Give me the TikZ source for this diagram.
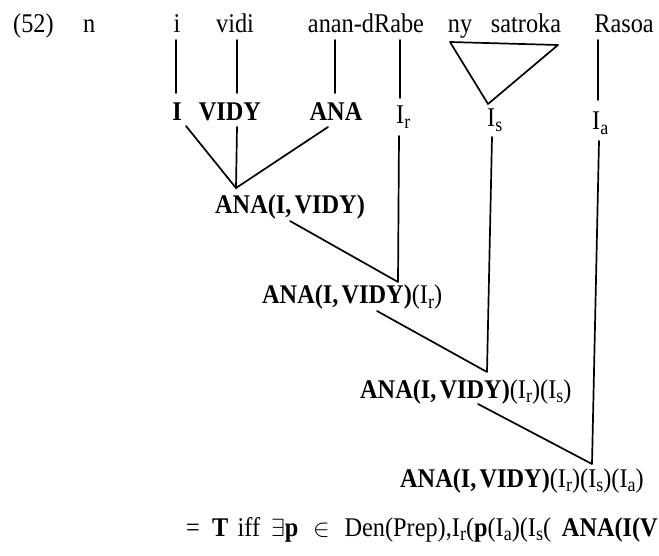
\documentclass[tikz,border=0pt]{standalone}
\usepackage{fontspec}
\setmainfont{Liberation Serif}[FakeStretch=0.9]
\newcommand\sbs[1]{\raisebox{-0.35ex}{\fontsize{20}{20}\selectfont #1}}
\newcommand\gap[1]{\hspace{#1em}}
\begin{document}
\begin{tikzpicture}[x=1pt,y=-1pt,
  every node/.style={inner sep=0pt, anchor=base, font=\fontsize{27}{30}\selectfont},
  lbl/.style={anchor=base west},
  edge/.style={line width=1.7pt, line cap=round, line join=round}]
\useasboundingbox (0,0) rectangle (659,556);
\clip (0,0) rectangle (659,556);
% row 1: words
\node[lbl] (ex) at (13,33) {(52)};
\node[lbl] (wn) at (83,33) {n};
\node (wi) at (177,33) {i};
\node (wvidi) at (235,33) {vidi};
\node (wanan) at (366,33) {anan-dRabe};
\node (wny) at (460,33) {ny};
\node (wsat) at (526,33) {satroka};
\node (wras) at (624,33) {Rasoa};
% row 2: translations
\node (lI) at (177,121) {\textbf{I}};
\node (lV) at (230,121) {\textbf{VIDY}};
\node (lA) at (336,121) {\textbf{ANA}};
\node[lbl] (lr) at (396,124) {I\sbs{r}};
\node[lbl] (ls) at (487,127) {I\sbs{s}};
\node[lbl] (la) at (592,130) {I\sbs{a}};
% composed labels
\node[lbl] (c1) at (215,214) {\textbf{ANA(I,\hspace{.12em}VIDY)}};
\node[lbl] (c2) at (262,304) {\textbf{ANA(I,\hspace{.12em}VIDY)}(I\sbs{r})};
\node[lbl] (c3) at (360,398) {\textbf{ANA(I,\hspace{.12em}VIDY)}(I\sbs{r})(I\sbs{s})};
\node[lbl] (c4) at (400,487) {\textbf{ANA(I,\hspace{.12em}VIDY)}(I\sbs{r})(I\sbs{s})(I\sbs{a})};
\node[lbl] (fm) at (186,536) {=\gap{.45}\textbf{T}\gap{.35}iff\gap{.4}$\exists$\textbf{p}\gap{.55}$\in$\gap{.55}Den(Prep),I\sbs{r}(\textbf{p}(I\sbs{a})(I\sbs{s}(\gap{.4}\textbf{ANA(I(V}};
% coordinates for line ends
\coordinate (i1) at (176,40);  \coordinate (i2) at (176,93);
\coordinate (v1) at (237,40);  \coordinate (v2) at (237,93);
\coordinate (a1) at (335,40);  \coordinate (a2) at (335,93);
\coordinate (r1) at (400,40);  \coordinate (r2) at (400,98);
\coordinate (t1) at (450,42);  \coordinate (t2) at (558,45); \coordinate (t3) at (488,104);
\coordinate (s1) at (598,40);  \coordinate (s2) at (598,100);
\coordinate (bI) at (186,126); \coordinate (bV) at (237,127); \coordinate (bA) at (328,127);
\coordinate (j1) at (236,188);
\coordinate (rr1) at (399,136); \coordinate (j2) at (398,282);
\coordinate (ss1) at (492,137); \coordinate (j3) at (487,372);
\coordinate (aa1) at (599,141); \coordinate (j4) at (592,464);
\coordinate (k1) at (290,221); \coordinate (k2) at (377,311); \coordinate (k3) at (478,404);
% connectors
\draw[edge] (i1) -- (i2);
\draw[edge] (v1) -- (v2);
\draw[edge] (a1) -- (a2);
\draw[edge] (r1) -- (r2);
\draw[edge] (t1) -- (t2) -- (t3) -- cycle;
\draw[edge] (s1) -- (s2);
\draw[edge] (bI) -- (j1);
\draw[edge] (bV) -- (j1);
\draw[edge] (bA) -- (j1);
\draw[edge] (rr1) -- (j2) -- (k1);
\draw[edge] (ss1) -- (j3) -- (k2);
\draw[edge] (aa1) -- (j4) -- (k3);
\end{tikzpicture}
\end{document}
